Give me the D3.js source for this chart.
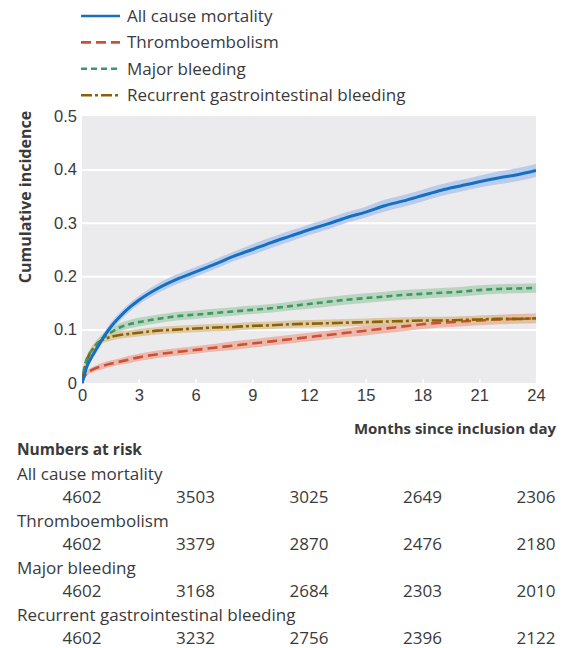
<!DOCTYPE html>
<html><head><meta charset="utf-8">
<script src="https://cdn.jsdelivr.net/npm/d3@7"></script>
<style>html,body{margin:0;padding:0;background:#fff;}svg{display:block;font-family:"Open Sans","Noto Sans",sans-serif;}</style>
</head><body><svg id="c" width="568" height="648"></svg>
<script>
const months = [0,0.1,0.25,0.5,0.75,1,1.5,2,2.5,3,4,5,6,7,8,9,10,11,12,13,14,15,16,17,18,19,20,21,22,23,24];
const allCause   = [0,0.012,0.03,0.048,0.063,0.078,0.104,0.124,0.141,0.155,0.177,0.194,0.208,0.222,0.237,0.250,0.263,0.275,0.287,0.298,0.310,0.320,0.332,0.341,0.351,0.361,0.369,0.377,0.384,0.390,0.398];
const thrombo    = [0,0.010,0.018,0.024,0.028,0.031,0.036,0.040,0.044,0.048,0.054,0.058,0.062,0.066,0.070,0.074,0.078,0.082,0.086,0.090,0.094,0.098,0.102,0.106,0.110,0.113,0.115,0.117,0.119,0.120,0.121];
const majorBleed = [0,0.025,0.045,0.060,0.072,0.081,0.094,0.104,0.110,0.114,0.120,0.125,0.128,0.131,0.134,0.137,0.140,0.144,0.148,0.152,0.156,0.159,0.162,0.165,0.167,0.169,0.171,0.174,0.176,0.177,0.178];
const recurrentGI= [0,0.022,0.042,0.060,0.071,0.079,0.086,0.090,0.092,0.094,0.098,0.100,0.102,0.104,0.105,0.107,0.108,0.110,0.111,0.112,0.113,0.114,0.115,0.116,0.117,0.117,0.118,0.119,0.120,0.120,0.121];
// confidence band half widths
const allCauseCI   = [0,0.004,0.005,0.006,0.007,0.007,0.008,0.008,0.008,0.008,0.009,0.009,0.009,0.009,0.009,0.010,0.010,0.010,0.010,0.010,0.010,0.010,0.011,0.011,0.011,0.011,0.011,0.011,0.012,0.012,0.012];
const thromboCI    = [0,0.003,0.004,0.005,0.005,0.006,0.006,0.006,0.007,0.007,0.007,0.007,0.007,0.007,0.008,0.008,0.008,0.008,0.008,0.008,0.008,0.009,0.009,0.009,0.009,0.009,0.009,0.009,0.009,0.009,0.009];
const majorBleedCI = [0,0.005,0.006,0.007,0.007,0.008,0.008,0.008,0.008,0.008,0.008,0.008,0.008,0.008,0.008,0.008,0.008,0.008,0.009,0.009,0.009,0.009,0.009,0.009,0.009,0.009,0.009,0.009,0.009,0.009,0.009];
const recurrentGICI= [0,0.005,0.006,0.007,0.007,0.007,0.007,0.007,0.007,0.007,0.007,0.007,0.007,0.007,0.007,0.007,0.007,0.007,0.007,0.007,0.007,0.007,0.007,0.007,0.007,0.007,0.007,0.007,0.007,0.007,0.007];
const seriesNames = ["All cause mortality","Thromboembolism","Major bleeding","Recurrent gastrointestinal bleeding"];
const xTicks = [0,3,6,9,12,15,18,21,24];
const yTicks = [0,0.1,0.2,0.3,0.4,0.5];
const riskMonths = [0,6,12,18,24];
const riskAllCause = [4602,3503,3025,2649,2306];
const riskThrombo = [4602,3379,2870,2476,2180];
const riskMajorBleed = [4602,3168,2684,2303,2010];
const riskRecurrentGI = [4602,3232,2756,2396,2122];

const styles = [
  {line:"#1570c4", band:"#b3c7ea", dash:null, w:3},
  {line:"#cc5038", band:"#ecb0a0", dash:"10,5", w:2.6},
  {line:"#3d9963", band:"#b3d2b8", dash:"6,4", w:2.6},
  {line:"#8a6205", band:"#dbc49c", dash:"11,3,3,3", w:2.6}
];
const vals = [allCause, thrombo, majorBleed, recurrentGI];
const cis = [allCauseCI, thromboCI, majorBleedCI, recurrentGICI];
const risks = [riskAllCause, riskThrombo, riskMajorBleed, riskRecurrentGI];

const svg = d3.select("#c");
const L=82, R=536, T=116, B=383;
const x = d3.scaleLinear().domain([0,24]).range([L,R]);
const y = d3.scaleLinear().domain([0,0.5]).range([B,T]);
const txt = "#3a3a3a";

svg.append("rect").attr("x",L).attr("y",T).attr("width",R-L).attr("height",B-T).attr("fill","#ebebed");
const gy = svg.append("g").attr("transform",`translate(${L},0)`)
  .call(d3.axisLeft(y).tickValues(yTicks).tickSize(-(R-L)).tickFormat(d=>d===0?"0":d3.format(".1f")(d)));
gy.select(".domain").remove();
gy.selectAll(".tick line").attr("stroke","#fff").attr("stroke-width",2).attr("opacity",d=>(d===0||d===0.5)?0:1);
gy.selectAll(".tick text").attr("x",-5).attr("fill",txt).attr("font-size",16.5);
const gx = svg.append("g").attr("transform",`translate(0,${B})`)
  .call(d3.axisBottom(x).tickValues(xTicks).tickSize(-4));
gx.select(".domain").remove();
gx.selectAll(".tick line").attr("stroke","#fff").attr("stroke-width",1.5);
gx.selectAll(".tick text").attr("y",6).attr("fill",txt).attr("font-size",16.5);

svg.append("clipPath").attr("id","cp").append("rect").attr("x",L).attr("y",T-5).attr("width",R-L).attr("height",B-T+10);
const plot = svg.append("g").attr("clip-path","url(#cp)");
const area = d3.area().x(d=>x(d[0])).y0(d=>y(Math.max(0,d[1]-d[2]))).y1(d=>y(d[1]+d[2])).curve(d3.curveMonotoneX);
const line = d3.line().x(d=>x(d[0])).y(d=>y(d[1])).curve(d3.curveMonotoneX);
[0,1,2,3].forEach(i=>{
  const data = months.map((m,j)=>[m, vals[i][j], cis[i][j]]);
  plot.append("path").attr("d",area(data)).attr("fill",styles[i].band).attr("opacity",0.88);
});
[1,3,2,0].forEach(i=>{
  const data = months.map((m,j)=>[m, vals[i][j]]);
  plot.append("path").attr("d",line(data)).attr("fill","none").attr("stroke",styles[i].line)
    .attr("stroke-width",styles[i].w).attr("stroke-dasharray",styles[i].dash);
});

// y axis title
svg.append("text").attr("transform",`translate(31,197) rotate(-90)`).attr("text-anchor","middle")
  .attr("font-weight","bold").attr("font-size",16).attr("fill",txt).text("Cumulative incidence");
// legend
const lg = svg.append("g");
seriesNames.forEach((n,i)=>{
  const yy = 16 + i*26.4;
  lg.append("line").attr("x1",81).attr("x2",120).attr("y1",yy).attr("y2",yy).attr("stroke",styles[i].line)
    .attr("stroke-width",2.6).attr("stroke-dasharray",styles[i].dash);
  lg.append("text").attr("x",127).attr("y",yy).attr("dy","0.35em").attr("font-size",17).attr("fill",txt).text(n);
});
// x axis title
svg.append("text").attr("x",556).attr("y",434).attr("text-anchor","end").attr("font-weight","bold")
  .attr("font-size",15).attr("fill",txt).text("Months since inclusion day");
svg.append("text").attr("x",17).attr("y",455).attr("font-weight","bold")
  .attr("font-size",15.5).attr("fill",txt).text("Numbers at risk");
seriesNames.forEach((n,i)=>{
  const by = 480 + i*47;
  svg.append("text").attr("x",17).attr("y",by).attr("font-size",17).attr("fill",txt).text(n);
  risks[i].forEach((v,j)=>{
    svg.append("text").attr("x",x(riskMonths[j])).attr("y",by+23).attr("text-anchor","middle")
      .attr("font-size",17).attr("fill",txt).text(v);
  });
});
</script></body></html>
